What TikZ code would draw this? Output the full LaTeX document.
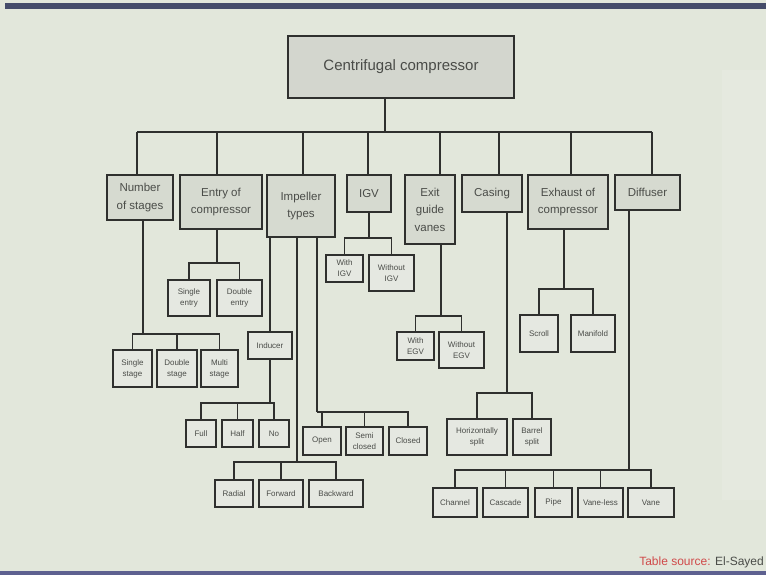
\documentclass[tikz,border=0pt]{standalone}
\usepackage{fontspec}
\setmainfont{Liberation Sans}
\definecolor{bg}{HTML}{E2E7DB}
\definecolor{bglight}{HTML}{E5E9DF}
\definecolor{topfill}{HTML}{D3D6CE}
\definecolor{catfill}{HTML}{D6DAD0}
\definecolor{leaffill}{HTML}{E5E8E1}
\definecolor{edge}{HTML}{2F302E}
\definecolor{txt}{HTML}{4A4C48}
\definecolor{srcred}{HTML}{D04A4A}
\definecolor{barblue}{HTML}{454C6A}
\definecolor{barbot}{HTML}{5E6190}
\begin{document}
\begin{tikzpicture}[x=1pt,y=-1pt,
  box/.style={draw=edge, rectangle, inner sep=1pt, align=center, text=txt},
  topbox/.style={box, fill=topfill, line width=2.2pt, font=\fontsize{15}{18}\selectfont},
  cat/.style={box, fill=catfill, line width=2pt, font=\fontsize{11.5}{17.5}\selectfont},
  leaf/.style={box, fill=leaffill, line width=1.6pt, font=\fontsize{8}{11}\selectfont},
  busline/.style={draw=edge, line width=1.8pt},
  stem/.style={draw=edge, line width=1.1pt},
  br/.style={draw=edge, line width=1.6pt}]
\useasboundingbox (0,0) rectangle (766,575);
\fill[bg] (0,0) rectangle (766,575);
\fill[bglight] (722,70) rectangle (766,500);
\fill[barblue] (5,3) rectangle (766,9);
\fill[barbot] (0,571) rectangle (766,575);

% root
\node[topbox, minimum width=226pt, minimum height=62pt] (top) at (401,67) {Centrifugal compressor};

% level 1
\node[cat, minimum width=66pt, minimum height=45pt] (nos) at (140,197.5) {Number\\of stages};
\node[cat, minimum width=82pt, minimum height=54pt] (entry) at (221,202) {Entry of\\compressor};
\node[cat, minimum width=68pt, minimum height=62pt] (imp) at (301,206) {Impeller\\types};
\node[cat, minimum width=44pt, minimum height=37pt] (igv) at (369,193.5) {IGV};
\node[cat, minimum width=50pt, minimum height=69pt] (egv) at (430,209.5) {Exit\\guide\\vanes};
\node[cat, minimum width=60pt, minimum height=37pt] (cas) at (492,193.5) {Casing};
\node[cat, minimum width=80pt, minimum height=54pt] (exh) at (568,202) {Exhaust of\\compressor};
\node[cat, minimum width=65pt, minimum height=35pt] (dif) at (647.5,192.5) {Diffuser};

% bus
\coordinate (bus) at (385,132);
\coordinate (d1) at (137,132);
\coordinate (d2) at (217,132);
\coordinate (d3) at (303,132);
\coordinate (d4) at (368,132);
\coordinate (d5) at (440,132);
\coordinate (d6) at (499,132);
\coordinate (d7) at (571,132);
\coordinate (d8) at (652,132);
\draw[busline] (top.south -| bus) -- (bus);
\draw[busline] (d1) -- (d8);
\draw[busline] (d1) -- (nos.north -| d1);
\draw[busline] (d2) -- (entry.north -| d2);
\draw[busline] (d3) -- (imp.north -| d3);
\draw[busline] (d4) -- (igv.north -| d4);
\draw[busline] (d5) -- (egv.north -| d5);
\draw[busline] (d6) -- (cas.north -| d6);
\draw[busline] (d7) -- (exh.north -| d7);
\draw[busline] (d8) -- (dif.north -| d8);

% Number of stages
\node[leaf, minimum width=39pt, minimum height=37pt] (ss) at (132.5,368.5) {Single\\stage};
\node[leaf, minimum width=40pt, minimum height=37pt] (ds) at (177,368.5) {Double\\stage};
\node[leaf, minimum width=37pt, minimum height=37pt] (ms) at (219.5,368.5) {Multi\\stage};
\coordinate (jnos) at (143,334);
\draw[stem] (nos.south -| jnos) -- (jnos);
\draw[br] (ss.north) |- (jnos);
\draw[br] (ds.north) |- (jnos);
\draw[br] (ms.north) |- (jnos);

% Entry
\node[leaf, minimum width=42pt, minimum height=36pt] (se) at (189,298) {Single\\entry};
\node[leaf, minimum width=45pt, minimum height=36pt] (de) at (239.5,298) {Double\\entry};
\coordinate (jent) at (217,263);
\draw[br] (entry.south -| jent) -- (jent);
\draw[br] (se.north) |- (jent);
\draw[br] (de.north) |- (jent);

% Impeller: inducer
\node[leaf, minimum width=44pt, minimum height=27pt] (ind) at (270,345.5) {Inducer};
\draw[stem] (imp.south -| ind.north) -- (ind.north);
\node[leaf, minimum width=30pt, minimum height=27pt] (full) at (201,433.5) {Full};
\node[leaf, minimum width=31pt, minimum height=27pt] (half) at (237.5,433.5) {Half};
\node[leaf, minimum width=30pt, minimum height=27pt] (no) at (274,433.5) {No};
\coordinate (jind) at (270,403);
\draw[stem] (ind.south) -- (jind);
\draw[br] (full.north) |- (jind);
\draw[br] (half.north) |- (jind);
\draw[br] (no.north) |- (jind);

% Impeller: blade shape
\node[leaf, minimum width=38pt, minimum height=27pt] (rad) at (234,493.5) {Radial};
\node[leaf, minimum width=44pt, minimum height=27pt] (fwd) at (281,493.5) {Forward};
\node[leaf, minimum width=54pt, minimum height=27pt] (bwd) at (336,493.5) {Backward};
\coordinate (jrad) at (297,462);
\draw[stem] (imp.south -| jrad) -- (jrad);
\draw[br] (rad.north) |- (jrad);
\draw[br] (fwd.north) |- (jrad);
\draw[br] (bwd.north) |- (jrad);

% Impeller: shroud
\node[leaf, minimum width=38pt, minimum height=28pt] (open) at (322,441) {Open};
\node[leaf, minimum width=37pt, minimum height=28pt] (semi) at (364.5,441) {Semi\\closed};
\node[leaf, minimum width=38pt, minimum height=28pt] (closed) at (408,441) {Closed};
\coordinate (jopen) at (317,412);
\draw[stem] (imp.south -| jopen) -- (jopen);
\draw[br] (open.north) |- (jopen);
\draw[br] (semi.north) |- (jopen);
\draw[br] (closed.north) |- (jopen);

% IGV
\node[leaf, minimum width=37pt, minimum height=27pt] (wigv) at (344.5,268.5) {With\\IGV};
\node[leaf, minimum width=45pt, minimum height=36pt] (woigv) at (391.5,273) {Without\\IGV};
\coordinate (jigv) at (369,238);
\draw[br] (igv.south -| jigv) -- (jigv);
\draw[br] (wigv.north) |- (jigv);
\draw[br] (woigv.north) |- (jigv);

% EGV
\node[leaf, minimum width=37pt, minimum height=28pt] (wegv) at (415.5,346) {With\\EGV};
\node[leaf, minimum width=45pt, minimum height=36pt] (woegv) at (461.5,350) {Without\\EGV};
\coordinate (jegv) at (441,316);
\draw[stem] (egv.south -| jegv) -- (jegv);
\draw[br] (wegv.north) |- (jegv);
\draw[br] (woegv.north) |- (jegv);

% Casing
\node[leaf, minimum width=60pt, minimum height=36pt] (hs) at (477,437) {Horizontally\\split};
\node[leaf, minimum width=38pt, minimum height=36pt] (bs) at (532,437) {Barrel\\split};
\coordinate (jcas) at (507,393);
\draw[stem] (cas.south -| jcas) -- (jcas);
\draw[br] (hs.north) |- (jcas);
\draw[br] (bs.north) |- (jcas);

% Exhaust
\node[leaf, minimum width=38pt, minimum height=37pt] (scroll) at (539,333.5) {Scroll};
\node[leaf, minimum width=44pt, minimum height=37pt] (mani) at (593,333.5) {Manifold};
\coordinate (jexh) at (564,289);
\draw[stem] (exh.south -| jexh) -- (jexh);
\draw[br] (scroll.north) |- (jexh);
\draw[br] (mani.north) |- (jexh);

% Diffuser
\node[leaf, minimum width=44pt, minimum height=29pt] (chan) at (455,502.5) {Channel};
\node[leaf, minimum width=45pt, minimum height=29pt] (casc) at (505.5,502.5) {Cascade};
\node[leaf, minimum width=37pt, minimum height=29pt] (pipe) at (553.5,502.5) {Pipe};
\node[leaf, minimum width=45pt, minimum height=29pt] (vless) at (600.5,502.5) {Vane-less};
\node[leaf, minimum width=46pt, minimum height=29pt] (vane) at (651,502.5) {Vane};
\coordinate (jdif) at (629,470);
\draw[stem] (dif.south -| jdif) -- (jdif);
\draw[br] (chan.north) |- (jdif);
\draw[br] (casc.north) |- (jdif);
\draw[br] (pipe.north) |- (jdif);
\draw[br] (vless.north) |- (jdif);
\draw[br] (vane.north) |- (jdif);

% source
\node[anchor=east, inner sep=0pt, font=\fontsize{12}{14}\selectfont] (src) at (764,562)
  {\textcolor{srcred}{Table source:} \textcolor{txt}{El-Sayed}};
\end{tikzpicture}
\end{document}
